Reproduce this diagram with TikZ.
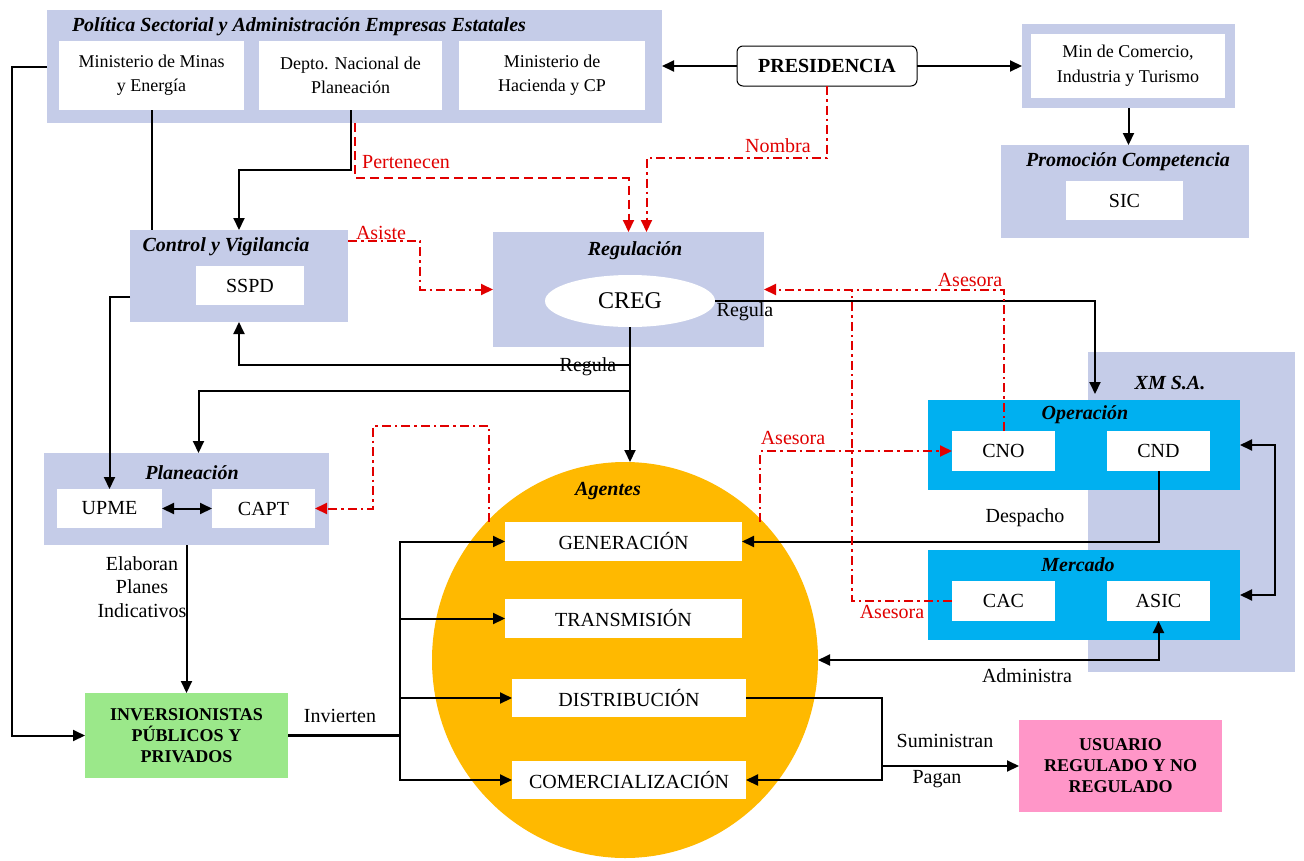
\documentclass[tikz,border=0pt]{standalone}
\usepackage{fontspec}
\setmainfont{Liberation Serif}
\usetikzlibrary{arrows.meta,calc,shapes.geometric}
\definecolor{lav}{RGB}{197,204,232}
\definecolor{opblue}{RGB}{0,176,240}
\definecolor{agor}{RGB}{255,185,0}
\definecolor{invg}{RGB}{155,232,138}
\definecolor{usrp}{RGB}{255,150,200}
\definecolor{rd}{RGB}{225,0,0}
\newcommand\bx[7]{\node[#1, anchor=north west, minimum width={#5-#3}, minimum height={#6-#4}] (#2) at (#3,#4) {#7};}
\begin{document}
\begin{tikzpicture}[x=1pt,y=-1pt,
 every node/.style={inner sep=0pt, outer sep=0pt, font=\fontsize{20}{24}\selectfont, align=center},
 cont/.style={fill=lav},
 wbox/.style={fill=white},
 sbox/.style={fill=white, font=\fontsize{18}{24}\selectfont},
 ttl/.style={font=\fontsize{20}{24}\selectfont\bfseries\itshape},
 capsb/.style={font=\fontsize{18}{21}\selectfont\bfseries},
 ln/.style={line width=2pt},
 conn/.style={line width=2pt, -{Triangle[length=12pt,width=11pt]}},
 dconn/.style={line width=2pt, {Triangle[length=12pt,width=11pt]}-{Triangle[length=12pt,width=11pt]}},
 rdash/.style={draw=rd, line width=2pt, dash pattern=on 9pt off 5pt},
 rdd/.style={draw=rd, line width=2pt, dash pattern=on 9pt off 4pt on 2.5pt off 4pt},
 rtip/.style={-{Triangle[length=12pt,width=11pt]}},
 rlbl/.style={text=rd}
]
\useasboundingbox (0,0) rectangle (1304,860);
\fill[white] (0,0) rectangle (1304,860);

% containers
\bx{cont}{pol}{47}{10}{662}{123}{}
\node[ttl, anchor=west] (polt) at (72,27) {Política Sectorial y Administración Empresas Estatales};
\bx{sbox}{minas}{59}{41}{244}{110}{Ministerio de Minas\\y Energía}
\bx{sbox}{dnp}{259}{41}{442}{110}{Depto. Nacional de\\Planeación}
\bx{sbox}{hac}{459}{41}{645}{110}{Ministerio de\\Hacienda y CP}

\node[draw, rounded corners=6pt, line width=1pt, fill=white, font=\fontsize{20}{24}\selectfont\bfseries, minimum width=180, minimum height=40] (pres) at (827,66) {PRESIDENCIA};

\bx{cont}{mc}{1022}{24}{1235}{108}{}
\bx{wbox, font=\fontsize{18}{25}\selectfont}{mci}{1031}{34}{1225}{98}{Min de Comercio,\\Industria y Turismo}

\bx{cont}{prom}{1001}{145}{1249}{238}{}
\node[ttl] (promt) at (1128,162) {Promoción Competencia};
\bx{wbox}{sic}{1066}{181}{1183}{220}{SIC}

\bx{cont}{ctrl}{130}{230}{348}{322}{}
\node[ttl] (ctrlt) at (226,247) {Control y Vigilancia};
\bx{wbox}{sspd}{196}{266}{304}{305}{SSPD}

\bx{cont}{reg}{493}{232}{764}{347}{}
\node[ttl] (regt) at (635,251) {Regulación};
\node[ellipse, fill=white, minimum width=170, minimum height=52, font=\fontsize{24}{28}\selectfont] (creg) at (630,301) {CREG};

\bx{cont}{xm}{1088}{352}{1295}{672}{}
\node[ttl] (xmt) at (1170,383) {XM S.A.};
\bx{fill=opblue}{op}{928}{400}{1240}{490}{}
\node[ttl] (opt) at (1085,415) {Operación};
\bx{wbox}{cno}{952}{431}{1055}{471}{CNO}
\bx{wbox}{cnd}{1107}{431}{1210}{471}{CND}
\bx{fill=opblue}{mer}{928}{550}{1240}{640}{}
\node[ttl] (mert) at (1078,565) {Mercado};
\bx{wbox}{cac}{952}{581}{1055}{621}{CAC}
\bx{wbox}{asic}{1107}{581}{1210}{621}{ASIC}

\bx{cont}{plan}{44}{453}{329}{545}{}
\node[ttl] (plant) at (192,473) {Planeación};
\bx{wbox}{upme}{57}{489}{162}{528}{UPME}
\bx{wbox}{capt}{212}{489}{315}{528}{CAPT}

\bx{fill=invg, capsb}{inv}{85}{693}{288}{778}{INVERSIONISTAS\\PÚBLICOS Y\\PRIVADOS}
\bx{fill=usrp, capsb}{usr}{1019}{720}{1222}{812}{USUARIO\\REGULADO Y NO\\REGULADO}

\node[ellipse, fill=agor, minimum width=386, minimum height=396] (ag) at (625,660) {};
\node[ttl] (agt) at (608,491) {Agentes};
\bx{wbox}{gen}{505}{522}{742}{561}{GENERACIÓN}
\bx{wbox}{tra}{505}{599}{742}{638}{TRANSMISIÓN}
\bx{wbox}{dis}{512}{679}{746}{717}{DISTRIBUCIÓN}
\bx{wbox}{com}{512}{761}{746}{799}{COMERCIALIZACIÓN}

% black connectors
\draw[conn] (pres.west) -- (pol.east |- pres.west);
\draw[conn] (pres.east) -- (mc.west |- pres.east);
\draw[conn] (mc.south) -- (mc.south |- prom.north);
\draw[ln] (minas.south) -- (minas.south |- ctrl.north);
\draw[conn] (dnp.south) -- ++(0,60) -| (ctrl.north);
\draw[conn] ($(ctrl.south west)+(0,-25)$) -| (upme.north);
\draw[conn] (pol.west) -- ++(-35,0) |- (inv.west);
\draw[conn] (creg.south) -- (creg.south |- ag.north);
\draw[conn] ($(creg.south)+(0,38)$) -| (ctrl.south);
\draw[conn] ($(creg.south)+(0,64)$) -| ($(plan.north)+(12,0)$);
\draw[conn] (creg.east) -| ($(op.north)+(11,-6)$);
\draw[dconn] (op.east) -- ++(35,0) |- (mer.east);
\draw[conn] (cnd.south) |- (gen.east);
\draw[dconn] (asic.south) |- (ag.east);
\draw[dconn] (upme.east) -- (capt.west);
\draw[conn] (plan.south) -- (inv.north);
\coordinate (bus) at ($(inv.east)+(112,0)$);
\draw[line width=3pt] (inv.east) -- (bus);
\draw[conn] (bus) |- (gen.west);
\draw[conn] (bus) |- (tra.west);
\draw[conn] (bus) |- (dis.west);
\draw[conn] (bus) |- (com.west);
\coordinate (sp) at ($(dis.east)+(136,0)$);
\draw[conn] (dis.east) -- (sp) |- (com.east);
\draw[conn] (sp |- usr.west) -- (usr.west);

% red connectors
\draw[rdash, rtip] ($(pol.south west)+(308,0)$) |- ($(reg.north)+(0,-54)$) -- (reg.north);
\draw[rdd, rtip] (pres.south) |- ($(reg.north)+(18,-74)$) -- ($(reg.north)+(18,0)$);
\draw[rdd, rtip] ($(ctrl.north east)+(0,11)$) -- ++(72,0) |- (reg.west);
\draw[rdd, rtip] (cno.north) |- (reg.east);
\draw[rdd] (cac.west) -| ($(reg.east)+(88,0)$);
\draw[rdd, rtip] ($(gen.north east)+(18,0)$) |- (cno.west);
\draw[rdd, rtip] ($(gen.north west)+(-16,0)$) |- ($(capt.east)+(58,-83)$) |- (capt.east);

% labels
\node[rlbl] (l1) at (406,162) {Pertenecen};
\node[rlbl] (l2) at (778,146) {Nombra};
\node[rlbl] (l3) at (381,233) {Asiste};
\node[rlbl] (l4) at (970,280) {Asesora};
\node[rlbl] (l5) at (793,438) {Asesora};
\node[rlbl] (l6) at (892,612) {Asesora};
\node (l7) at (588,367) {Regula};
\node (l8) at (745,312) {Regula};
\node (l9) at (1025,518) {Despacho};
\node (l10) at (1027,676) {Administra};
\node[font=\fontsize{20}{23.5}\selectfont] (l11) at (142,587) {Elaboran\\Planes\\Indicativos};
\node (l12) at (340,716) {Invierten};
\node (l13) at (945,741) {Suministran};
\node (l14) at (937,779) {Pagan};
\end{tikzpicture}
\end{document}
